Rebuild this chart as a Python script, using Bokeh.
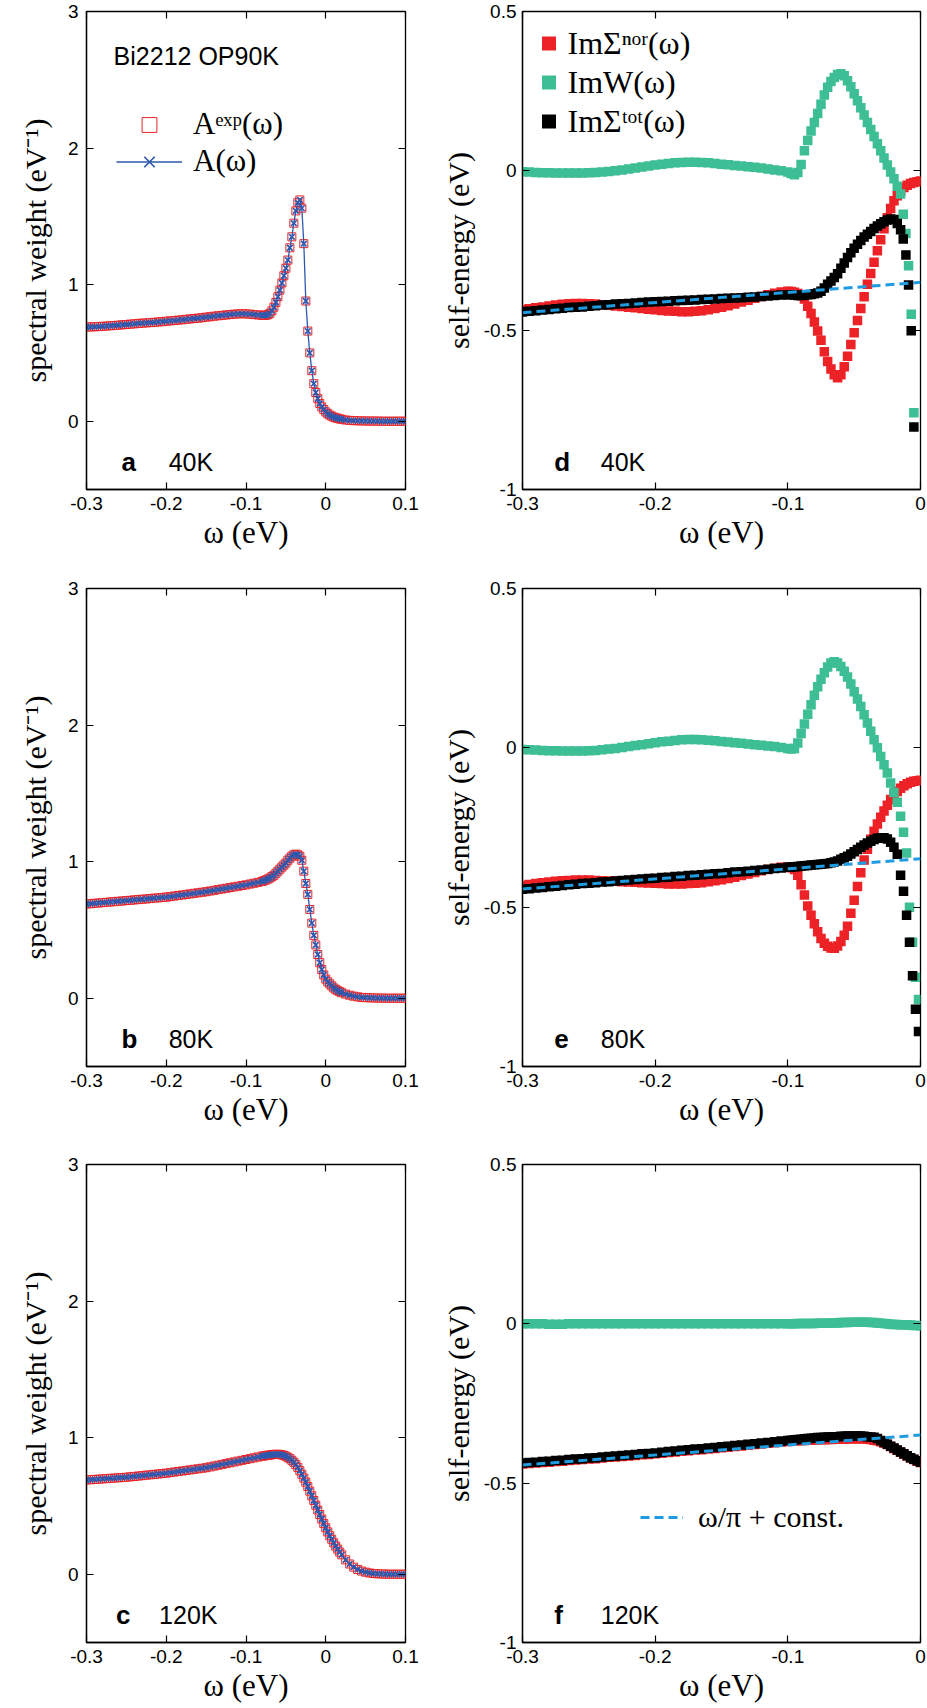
from bokeh.plotting import figure
from bokeh.layouts import column, row
from bokeh.models import (Range1d, FixedTicker, LinearAxis, Label, Legend,
                          LegendItem, CustomJSTickFormatter)
from bokeh.embed import file_html
from bokeh.resources import INLINE

# ---------------- data: spectral weight (panels a, b, c) ----------------
w_left = [
    -0.300, -0.295, -0.290, -0.285, -0.280, -0.275, -0.270, -0.265, -0.260, -0.255,
    -0.250, -0.245, -0.240, -0.235, -0.230, -0.225, -0.220, -0.215, -0.210, -0.205,
    -0.200, -0.195, -0.190, -0.185, -0.180, -0.175, -0.170, -0.165, -0.160, -0.155,
    -0.150, -0.145, -0.140, -0.135, -0.130, -0.125, -0.120, -0.115, -0.110, -0.105,
    -0.100, -0.095, -0.090, -0.085, -0.080,
    -0.0775, -0.075, -0.0725, -0.070, -0.0675, -0.065, -0.0625, -0.060, -0.0575, -0.055,
    -0.0525, -0.050, -0.0475, -0.045, -0.0425, -0.040, -0.0375, -0.035, -0.0325, -0.030,
    -0.0275, -0.025, -0.0225, -0.020, -0.0175, -0.015, -0.0125, -0.010, -0.0075, -0.005,
    -0.0025, 0.000, 0.0025, 0.005, 0.0075, 0.010, 0.0125, 0.015, 0.0175, 0.020,
    0.025, 0.030, 0.035, 0.040, 0.045, 0.050, 0.055, 0.060, 0.065, 0.070,
    0.075, 0.080, 0.085, 0.090, 0.095, 0.100]

A_exp_40K = [
    0.690, 0.690, 0.691, 0.693, 0.695, 0.697, 0.699, 0.701, 0.703, 0.706,
    0.708, 0.711, 0.713, 0.716, 0.718, 0.720, 0.722, 0.724, 0.727, 0.729,
    0.732, 0.735, 0.737, 0.740, 0.743, 0.746, 0.749, 0.752, 0.755, 0.758,
    0.762, 0.765, 0.769, 0.772, 0.775, 0.778, 0.781, 0.784, 0.786, 0.787,
    0.786, 0.784, 0.781, 0.778, 0.776,
    0.775, 0.776, 0.780, 0.790, 0.808, 0.835, 0.870, 0.912, 0.960, 1.012,
    1.065, 1.120, 1.180, 1.270, 1.350, 1.450, 1.540, 1.600, 1.620, 1.560,
    1.300, 0.880, 0.660, 0.500, 0.370, 0.275, 0.210, 0.165, 0.130, 0.105,
    0.085, 0.068, 0.055, 0.045, 0.037, 0.030, 0.025, 0.021, 0.017, 0.014,
    0.009, 0.006, 0.004, 0.003, 0.002, 0.002, 0.001, 0.001, 0.001, 0.000,
    0.000, 0.000, 0.000, 0.000, 0.000, 0.000]

A_exp_80K = [
    0.690, 0.692, 0.695, 0.697, 0.700, 0.702, 0.705, 0.707, 0.710, 0.712,
    0.715, 0.717, 0.720, 0.722, 0.725, 0.727, 0.730, 0.733, 0.735, 0.738,
    0.740, 0.744, 0.748, 0.752, 0.756, 0.760, 0.764, 0.768, 0.772, 0.776,
    0.780, 0.785, 0.790, 0.795, 0.800, 0.805, 0.810, 0.815, 0.820, 0.825,
    0.830, 0.836, 0.842, 0.848, 0.855,
    0.860, 0.866, 0.873, 0.880, 0.890, 0.900, 0.915, 0.930, 0.945, 0.960,
    0.975, 0.990, 1.010, 1.025, 1.040, 1.050, 1.055, 1.050, 1.040, 1.010,
    0.930, 0.840, 0.760, 0.650, 0.550, 0.460, 0.390, 0.320, 0.260, 0.210,
    0.170, 0.140, 0.120, 0.105, 0.090, 0.075, 0.065, 0.055, 0.048, 0.040,
    0.030, 0.022, 0.015, 0.010, 0.006, 0.004, 0.003, 0.002, 0.001, 0.001,
    0.000, 0.000, 0.000, 0.000, 0.000, 0.000]

A_exp_120K = [
    0.690, 0.692, 0.694, 0.696, 0.698, 0.700, 0.702, 0.704, 0.706, 0.708,
    0.710, 0.713, 0.716, 0.719, 0.722, 0.725, 0.728, 0.731, 0.734, 0.737,
    0.740, 0.744, 0.748, 0.752, 0.756, 0.760, 0.764, 0.768, 0.772, 0.776,
    0.780, 0.786, 0.792, 0.798, 0.804, 0.810, 0.816, 0.822, 0.828, 0.834,
    0.840, 0.846, 0.852, 0.858, 0.864,
    0.866, 0.869, 0.871, 0.873, 0.875, 0.877, 0.878, 0.878, 0.877, 0.874,
    0.870, 0.864, 0.856, 0.846, 0.834, 0.820, 0.802, 0.782, 0.758, 0.732,
    0.704, 0.674, 0.642, 0.608, 0.574, 0.540, 0.505, 0.470, 0.437, 0.404,
    0.372, 0.340, 0.310, 0.282, 0.256, 0.230, 0.206, 0.184, 0.162, 0.142,
    0.105, 0.075, 0.052, 0.035, 0.023, 0.015, 0.009, 0.005, 0.003, 0.002,
    0.001, 0.000, 0.000, 0.000, 0.000, 0.000]

# the fitted A(w) lies on top of the experimental points in the picture
A_fit_40K = A_exp_40K
A_fit_80K = A_exp_80K
A_fit_120K = A_exp_120K

# ---------------- data: self-energies (panels d, e, f) ----------------
w_right = [
    -0.300, -0.295, -0.290, -0.285, -0.280, -0.275, -0.270, -0.265, -0.260, -0.255,
    -0.250, -0.245, -0.240, -0.235, -0.230, -0.225, -0.220, -0.215, -0.210, -0.205,
    -0.200, -0.195, -0.190, -0.185, -0.180, -0.175, -0.170, -0.165, -0.160, -0.155,
    -0.150, -0.145, -0.140, -0.135, -0.130, -0.125, -0.120, -0.115, -0.110, -0.105,
    -0.100,
    -0.0975, -0.095, -0.0925, -0.090, -0.0875, -0.085, -0.0825, -0.080, -0.0775, -0.075,
    -0.0725, -0.070, -0.0675, -0.065, -0.0625, -0.060, -0.0575, -0.055, -0.0525, -0.050,
    -0.0475, -0.045, -0.0425, -0.040, -0.0375, -0.035, -0.0325, -0.030, -0.0275, -0.025,
    -0.0225, -0.020, -0.0175, -0.015, -0.0125, -0.010, -0.0075, -0.005, -0.0025, 0.000]

# 40K
nor_40K = [
    -0.436, -0.433, -0.430, -0.427, -0.424, -0.421, -0.419, -0.417, -0.416, -0.416,
    -0.417, -0.418, -0.420, -0.422, -0.424, -0.426, -0.428, -0.430, -0.432, -0.434,
    -0.436, -0.438, -0.440, -0.441, -0.442, -0.442, -0.441, -0.439, -0.436, -0.432,
    -0.428, -0.423, -0.418, -0.412, -0.406, -0.400, -0.394, -0.389, -0.384, -0.380,
    -0.378,
    -0.379, -0.381, -0.385, -0.392, -0.402, -0.425, -0.448, -0.474, -0.503, -0.532,
    -0.568, -0.598, -0.622, -0.640, -0.649, -0.640, -0.615, -0.582, -0.545, -0.508,
    -0.470, -0.432, -0.395, -0.356, -0.322, -0.287, -0.251, -0.216, -0.182, -0.147,
    -0.118, -0.094, -0.078, -0.064, -0.052, -0.045, -0.040, -0.037, -0.034, -0.032]
tail_w_40K = [-0.015, -0.013, -0.011, -0.009, -0.007, -0.005]
W_40K = [
    -0.003, -0.004, -0.005, -0.006, -0.006, -0.007, -0.007, -0.007, -0.007, -0.007,
    -0.006, -0.005, -0.004, -0.002, 0.000, 0.003, 0.006, 0.009, 0.012, 0.015,
    0.018, 0.021, 0.023, 0.025, 0.026, 0.027, 0.027, 0.026, 0.025, 0.023,
    0.021, 0.019, 0.017, 0.015, 0.013, 0.011, 0.009, 0.006, 0.003, 0.000,
    -0.004,
    -0.008, -0.012, -0.005, 0.020, 0.063, 0.095, 0.125, 0.152, 0.180, 0.209,
    0.238, 0.262, 0.280, 0.293, 0.302, 0.305, 0.298, 0.283, 0.264, 0.242,
    0.220, 0.198, 0.175, 0.152, 0.130, 0.108, 0.085, 0.063, 0.040, 0.018,
    -0.004, -0.025, -0.048,
    -0.073, -0.136, -0.197, -0.298, -0.450, -0.759]
tot_40K = [
    -0.443, -0.441, -0.439, -0.437, -0.435, -0.433, -0.431, -0.429, -0.428, -0.427,
    -0.425, -0.423, -0.421, -0.420, -0.418, -0.417, -0.416, -0.415, -0.413, -0.412,
    -0.411, -0.410, -0.409, -0.408, -0.407, -0.406, -0.405, -0.404, -0.403, -0.402,
    -0.401, -0.400, -0.399, -0.398, -0.397, -0.396, -0.394, -0.393, -0.391, -0.390,
    -0.389,
    -0.389, -0.390, -0.391, -0.391, -0.390, -0.389, -0.388, -0.386, -0.383, -0.378,
    -0.368, -0.356, -0.346, -0.335, -0.323, -0.306, -0.289, -0.272, -0.257, -0.243,
    -0.230, -0.219, -0.208, -0.199, -0.190, -0.181, -0.173, -0.166, -0.160, -0.154,
    -0.151, -0.153, -0.165,
    -0.185, -0.214, -0.264, -0.358, -0.502, -0.804]

# 80K
nor_80K = [
    -0.432, -0.429, -0.426, -0.423, -0.421, -0.419, -0.417, -0.416, -0.415, -0.415,
    -0.415, -0.416, -0.417, -0.418, -0.419, -0.420, -0.421, -0.422, -0.423, -0.424,
    -0.425, -0.426, -0.427, -0.427, -0.427, -0.426, -0.425, -0.423, -0.420, -0.417,
    -0.414, -0.410, -0.406, -0.401, -0.396, -0.391, -0.386, -0.382, -0.378, -0.375,
    -0.374,
    -0.376, -0.382, -0.400, -0.430, -0.462, -0.496, -0.525, -0.552, -0.577, -0.598,
    -0.613, -0.623, -0.628, -0.629, -0.622, -0.608, -0.588, -0.560, -0.519, -0.478,
    -0.435, -0.392, -0.352, -0.318, -0.287, -0.262, -0.239, -0.218, -0.198, -0.180,
    -0.162, -0.148, -0.137, -0.127, -0.119, -0.113, -0.108, -0.105, -0.103, -0.102]
tail_w_80K = [-0.015, -0.0128, -0.0105, -0.0083, -0.006, -0.0038, -0.0015]
W_80K = [
    -0.005, -0.006, -0.007, -0.008, -0.009, -0.009, -0.010, -0.010, -0.010, -0.010,
    -0.009, -0.008, -0.006, -0.004, -0.002, 0.001, 0.004, 0.007, 0.010, 0.013,
    0.016, 0.019, 0.021, 0.023, 0.025, 0.026, 0.026, 0.025, 0.024, 0.022,
    0.020, 0.018, 0.016, 0.014, 0.012, 0.010, 0.008, 0.006, 0.004, 0.001,
    -0.002,
    -0.004, -0.002, 0.015, 0.045, 0.075, 0.105, 0.135, 0.165, 0.192, 0.215,
    0.236, 0.254, 0.266, 0.270, 0.266, 0.255, 0.240, 0.222, 0.200, 0.176,
    0.153, 0.130, 0.104, 0.078, 0.052, 0.025, 0.000, -0.027, -0.053, -0.079,
    -0.110, -0.140, -0.171,
    -0.215, -0.265, -0.330, -0.500, -0.610, -0.720, -0.790]
tot_80K = [
    -0.444, -0.442, -0.440, -0.438, -0.436, -0.434, -0.432, -0.430, -0.428, -0.426,
    -0.425, -0.423, -0.421, -0.420, -0.418, -0.416, -0.415, -0.413, -0.412, -0.410,
    -0.409, -0.407, -0.406, -0.404, -0.403, -0.401, -0.400, -0.398, -0.397, -0.395,
    -0.394, -0.392, -0.390, -0.389, -0.387, -0.385, -0.383, -0.381, -0.379, -0.377,
    -0.375,
    -0.374, -0.373, -0.372, -0.371, -0.370, -0.369, -0.368, -0.367, -0.366, -0.365,
    -0.364, -0.363, -0.361, -0.358, -0.355, -0.350, -0.345, -0.340, -0.333, -0.326,
    -0.319, -0.312, -0.305, -0.299, -0.293, -0.288, -0.284, -0.282, -0.282, -0.286,
    -0.296, -0.312, -0.334,
    -0.400, -0.450, -0.525, -0.610, -0.715, -0.820, -0.890]

# 120K
nor_120K = [
    -0.440, -0.438, -0.437, -0.435, -0.434, -0.432, -0.431, -0.429, -0.427, -0.426,
    -0.424, -0.423, -0.421, -0.419, -0.418, -0.416, -0.415, -0.413, -0.411, -0.410,
    -0.408, -0.406, -0.404, -0.402, -0.400, -0.398, -0.396, -0.395, -0.393, -0.391,
    -0.389, -0.387, -0.385, -0.383, -0.381, -0.379, -0.377, -0.375, -0.373, -0.371,
    -0.369,
    -0.368, -0.367, -0.367, -0.366, -0.366, -0.365, -0.365, -0.364, -0.364, -0.364,
    -0.363, -0.363, -0.363, -0.362, -0.362, -0.362, -0.362, -0.361, -0.361, -0.361,
    -0.361, -0.361, -0.361, -0.362, -0.363, -0.365, -0.367, -0.370, -0.374, -0.379,
    -0.385, -0.391, -0.397, -0.403, -0.409, -0.415, -0.421, -0.426, -0.431, -0.435]
W_120K = [
    0.000, 0.000, 0.000, 0.000, -0.001, -0.001, -0.001, 0.000, 0.000, 0.000,
    0.000, 0.000, 0.000, 0.000, 0.000, 0.000, 0.000, 0.000, 0.000, 0.000,
    0.000, 0.000, 0.000, 0.000, 0.000, 0.000, 0.000, 0.000, 0.000, 0.000,
    0.000, 0.000, 0.000, 0.000, 0.000, 0.000, 0.000, 0.000, 0.000, 0.000,
    0.000,
    0.000, 0.000, 0.001, 0.001, 0.001, 0.001, 0.001, 0.001, 0.002, 0.002,
    0.002, 0.002, 0.003, 0.003, 0.003, 0.004, 0.004, 0.004, 0.005, 0.005,
    0.005, 0.005, 0.005, 0.005, 0.004, 0.004, 0.003, 0.002, 0.001, 0.000,
    -0.001, -0.002, -0.002, -0.003, -0.003, -0.004, -0.004, -0.005, -0.005, -0.006]
tot_120K = [
    -0.437, -0.435, -0.434, -0.432, -0.431, -0.429, -0.428, -0.426, -0.424, -0.423,
    -0.421, -0.420, -0.418, -0.416, -0.415, -0.413, -0.412, -0.410, -0.408, -0.407,
    -0.405, -0.403, -0.401, -0.399, -0.397, -0.395, -0.393, -0.392, -0.390, -0.388,
    -0.386, -0.384, -0.382, -0.380, -0.378, -0.376, -0.374, -0.372, -0.370, -0.368,
    -0.366,
    -0.365, -0.364, -0.363, -0.362, -0.361, -0.360, -0.359, -0.358, -0.357, -0.357,
    -0.356, -0.355, -0.355, -0.354, -0.354, -0.353, -0.353, -0.352, -0.352, -0.352,
    -0.352, -0.352, -0.353, -0.354, -0.355, -0.356, -0.360, -0.366, -0.372, -0.378,
    -0.384, -0.390, -0.396, -0.402, -0.408, -0.414, -0.420, -0.425, -0.430, -0.434]

# omega/pi + const guide lines (end points)
guide_w = [-0.300, 0.000]
guide_40K = [-0.445, -0.350]
guide_80K = [-0.443, -0.348]
guide_120K = [-0.443, -0.349]

# ---------------- styling ----------------
RED = "#ec2226"
GREEN = "#3dbe94"
BLUE = "#2d58ad"
DASH = "#1f9be0"
SANS = "Liberation Sans"
SERIF = "Liberation Serif"

LW, RW = 430, 497
ROW_H = [576, 576, 556]
TOP_B = [11, 12, 12]
BOT_B = [87, 86, 66]


def styled(width, height, bl, br, bt, bb, xr, yr, xticks, yticks, ylabel, ylab_standoff, ytick_standoff):
    p = figure(width=width, height=height, x_range=Range1d(*xr), y_range=Range1d(*yr),
               output_backend="svg", toolbar_location=None,
               min_border_left=bl, min_border_right=br, min_border_top=bt, min_border_bottom=bb,
               background_fill_color="white", border_fill_color="white")
    p.xgrid.visible = False
    p.ygrid.visible = False
    p.outline_line_color = "black"
    p.outline_line_width = 1.3
    p.outline_line_alpha = 1.0
    fmt = CustomJSTickFormatter(code="return String(Math.round(tick*10)/10);")
    xa = p.xaxis[0]
    ya = p.yaxis[0]
    xa.ticker = FixedTicker(ticks=xticks, minor_ticks=[])
    ya.ticker = FixedTicker(ticks=yticks, minor_ticks=[])
    for ax in (xa, ya):
        ax.formatter = fmt
        ax.major_tick_in = 7
        ax.major_tick_out = 0
        ax.major_tick_line_width = 1.2
        ax.minor_tick_line_color = None
        ax.axis_line_color = "black"
        ax.axis_line_width = 1.3
        ax.major_label_text_font = SANS
        ax.major_label_text_font_size = "19px"
        ax.major_label_text_color = "black"
        ax.axis_label_text_font = SERIF
        ax.axis_label_text_font_style = "normal"
        ax.axis_label_text_color = "black"
    xa.axis_label = "ω (eV)"
    xa.axis_label_text_font_size = "31px"
    xa.major_label_standoff = 7
    xa.axis_label_standoff = 2
    ya.axis_label = ylabel
    ya.axis_label_text_font_size = "30px"
    ya.major_label_standoff = ytick_standoff
    ya.axis_label_standoff = ylab_standoff
    # mirrored inward ticks on the top and right frame edges (no labels painted)
    for place, ticks in (("above", xticks), ("right", yticks)):
        m = LinearAxis(ticker=FixedTicker(ticks=ticks, minor_ticks=[]),
                       major_label_text_font_size="0px", major_label_text_color=None,
                       major_label_text_alpha=0.0, major_label_standoff=0,
                       major_tick_in=7, major_tick_out=0, major_tick_line_width=1.2,
                       minor_tick_line_color=None, axis_line_color=None)
        p.add_layout(m, place)
    return p


def panel_label(p, x1, x2, y, letter, temp):
    p.add_layout(Label(x=x1, y=y, text=letter, text_font=SANS, text_font_size="26px",
                       text_font_style="bold", text_color="black", text_baseline="alphabetic"))
    p.add_layout(Label(x=x2, y=y, text=temp, text_font=SANS, text_font_size="25px",
                       text_color="black", text_baseline="alphabetic"))


def spectral(i, A_exp, A_fit, letter, temp, legend=False):
    p = styled(LW, ROW_H[i], 86, 25, TOP_B[i], BOT_B[i], (-0.3, 0.1), (-0.5, 3.0),
               [-0.3, -0.2, -0.1, 0.0, 0.1], [0, 1, 2, 3], "spectral weight (eV⁻¹)", 13, 8)
    r_exp = p.scatter(w_left, A_exp, marker="square", size=8, fill_color=None,
                      line_color=RED, line_width=1.0)
    r_line = p.line(w_left, A_fit, line_color=BLUE, line_width=1.3)
    r_x = p.scatter(w_left, A_fit, marker="x", size=8, line_color=BLUE, line_width=1.7)
    panel_label(p, -0.256 if letter != "c" else -0.263, -0.197 if letter != "c" else -0.209,
                -0.30, letter, temp)
    if legend:
        p.add_layout(Label(x=-0.266, y=2.673, text="Bi2212 OP90K", text_font=SANS,
                           text_font_size="25px", text_color="black", text_baseline="alphabetic"))
        leg = Legend(items=[LegendItem(label="Aᵉˣᵖ(ω)", renderers=[r_exp]),
                            LegendItem(label="A(ω)", renderers=[r_line, r_x])],
                     location=(30, 309.5), orientation="vertical",
                     border_line_color=None, background_fill_alpha=0.0,
                     padding=0, margin=0, spacing=0,
                     glyph_width=66, glyph_height=37, label_height=37, label_standoff=11,
                     label_text_font=SERIF, label_text_font_size="31px", label_text_color="black")
        p.add_layout(leg)
    return p


def selfenergy(i, nor, wW, W, wT, tot, guide, letter, temp, legend=None):
    p = styled(RW, ROW_H[i], 92, 7, TOP_B[i], BOT_B[i], (-0.3, 0.0), (-1.0, 0.5),
               [-0.3, -0.2, -0.1, 0.0], [-1.0, -0.5, 0.0, 0.5], "self-energy (eV)", 6, 6)
    r_nor = p.scatter(w_right, nor, marker="square", size=9.5, color=RED, line_width=0)
    r_W = p.scatter(wW, W, marker="square", size=9.5, color=GREEN, line_width=0)
    r_tot = p.scatter(wT, tot, marker="square", size=9.5, color="black", line_width=0)
    r_g = p.line(guide_w, guide, line_color=DASH, line_width=3, line_dash="9 5")
    panel_label(p, -0.276, -0.241, -0.915, letter, temp)
    if legend == "top":
        leg = Legend(items=[LegendItem(label="ImΣⁿᵒʳ(ω)", renderers=[r_nor]),
                            LegendItem(label="ImW(ω)", renderers=[r_W]),
                            LegendItem(label="ImΣᵗᵒᵗ(ω)", renderers=[r_tot])],
                     location=(8.5, 348.6), orientation="vertical",
                     border_line_color=None, background_fill_alpha=0.0,
                     padding=0, margin=0, spacing=1,
                     glyph_width=35, glyph_height=38, label_height=38, label_standoff=2,
                     label_text_font=SERIF, label_text_font_size="32px", label_text_color="black")
        p.add_layout(leg)
    elif legend == "guide":
        leg = Legend(items=[LegendItem(label="ω/π + const.", renderers=[r_g])],
                     location=(118, 108), orientation="vertical",
                     border_line_color=None, background_fill_alpha=0.0,
                     padding=0, margin=0, spacing=0,
                     glyph_width=43, glyph_height=30, label_height=30, label_standoff=15,
                     label_text_font=SERIF, label_text_font_size="30px", label_text_color="black")
        p.add_layout(leg)
    return p


pa = spectral(0, A_exp_40K, A_fit_40K, "a", "40K", legend=True)
pb = spectral(1, A_exp_80K, A_fit_80K, "b", "80K")
pc = spectral(2, A_exp_120K, A_fit_120K, "c", "120K")

pd = selfenergy(0, nor_40K, w_right[:74] + tail_w_40K, W_40K, w_right[:74] + tail_w_40K, tot_40K,
                guide_40K, "d", "40K", legend="top")
pe = selfenergy(1, nor_80K, w_right[:74] + tail_w_80K, W_80K, w_right[:74] + tail_w_80K, tot_80K,
                guide_80K, "e", "80K")
pf = selfenergy(2, nor_120K, w_right, W_120K, w_right, tot_120K,
                guide_120K, "f", "120K", legend="guide")

layout = column(row(pa, pd), row(pb, pe), row(pc, pf))

with open("out.html", "w") as f:
    f.write(file_html(layout, INLINE))
